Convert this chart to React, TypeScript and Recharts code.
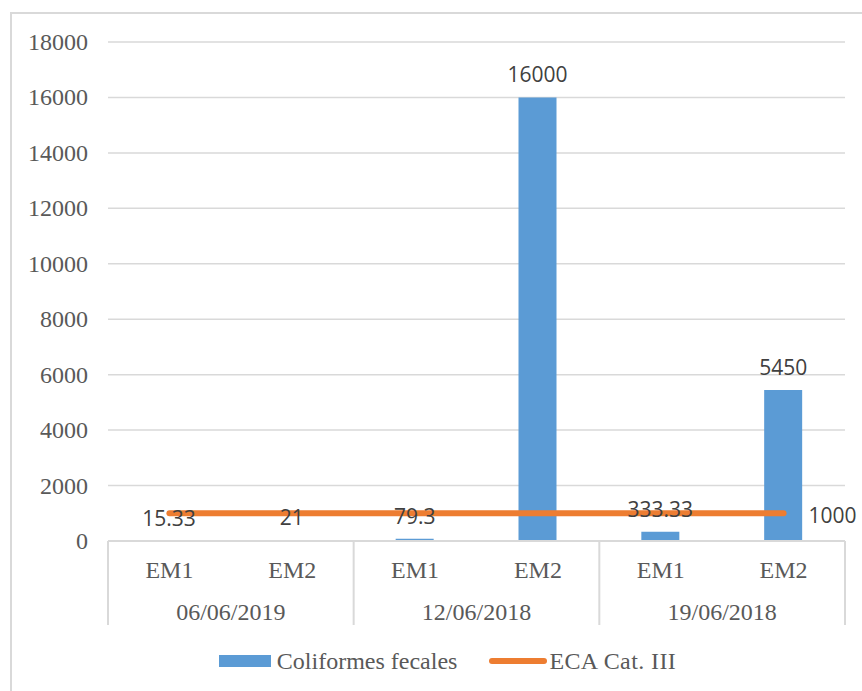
import React from 'react';
import {
  ComposedChart, Bar, Line, XAxis, YAxis, CartesianGrid, Legend, LabelList,
} from 'recharts';

const stations = ['EM1', 'EM2', 'EM1', 'EM2', 'EM1', 'EM2'];
const dates = ['06/06/2019', '06/06/2019', '12/06/2018', '12/06/2018', '19/06/2018', '19/06/2018'];
const coliformes = [15.33, 21, 79.3, 16000, 333.33, 5450];
const ecaLimit = [1000, 1000, 1000, 1000, 1000, 1000];
const yTicks = [0, 2000, 4000, 6000, 8000, 10000, 12000, 14000, 16000, 18000];

const data = stations.map((s, i) => ({
  em: s,
  date: dates[i],
  cf: coliformes[i],
  eca: ecaLimit[i],
}));

const CHART_W = 852;
const CHART_H = 679;
const MARGIN = { top: 30, right: 17, left: 0, bottom: 0 };
const Y_W = 98;
const BAND = (CHART_W - MARGIN.left - MARGIN.right - Y_W) / data.length;

const SERIF = '"Liberation Serif", "Times New Roman", serif';
const SANS = '"Open Sans", "Liberation Sans", sans-serif';
const GRID = '#d9d9d9';
const AXIS_TEXT = '#595959';
const BLUE = '#5b9bd5';
const ORANGE = '#ed7d31';

const CategoryTick = (props: any) => {
  const { x, y, payload } = props;
  const i = payload.index;
  const top = y - 8;
  return (
    <g>
      <text x={x} y={top + 29} textAnchor="middle" dominantBaseline="central"
        fontFamily={SERIF} fontSize={24} fill={AXIS_TEXT}>{payload.value}</text>
      {i % 2 === 0 && (
        <>
          <line x1={x - BAND / 2} x2={x - BAND / 2} y1={top} y2={top + 84} stroke={GRID} strokeWidth={2} />
          <text x={x + BAND / 2} y={top + 71} textAnchor="middle" dominantBaseline="central"
            fontFamily={SERIF} fontSize={24} fill={AXIS_TEXT}>{dates[i]}</text>
        </>
      )}
      {i === data.length - 1 && (
        <line x1={x + BAND / 2} x2={x + BAND / 2} y1={top} y2={top + 84} stroke={GRID} strokeWidth={2} />
      )}
    </g>
  );
};

const ValueTick = (props: any) => {
  const { x, y, payload } = props;
  return (
    <text x={x} y={y} textAnchor="end" dominantBaseline="central"
      fontFamily={SERIF} fontSize={24} fill={AXIS_TEXT}>{payload.value}</text>
  );
};

const EcaLabel = (props: any) => {
  const { x, y, index, value } = props;
  if (index !== data.length - 1) return null;
  return (
    <text x={x + 25} y={y + 2} dominantBaseline="central" textAnchor="start"
      fontFamily={SANS} fontSize={21} fill="#404040">{value}</text>
  );
};

const LegendContent = () => (
  <div style={{ display: 'flex', justifyContent: 'center', alignItems: 'center', paddingLeft: 40,
    fontFamily: SERIF, fontSize: 24, color: AXIS_TEXT, height: 40, paddingBottom: 10 }}>
    <svg width={52} height={14} style={{ marginRight: 6 }}>
      <rect x={0} y={1} width={52} height={12} fill={BLUE} />
    </svg>
    <span style={{ marginRight: 32 }}>Coliformes fecales</span>
    <svg width={58} height={14} style={{ marginRight: 2 }}>
      <line x1={3} y1={7} x2={55} y2={7} stroke={ORANGE} strokeWidth={6} strokeLinecap="round" />
    </svg>
    <span style={{ letterSpacing: 0.4 }}>ECA Cat. III</span>
  </div>
);

export default function App() {
  return (
    <div>
      <div style={{ position: 'absolute', left: 10, top: 12, width: 870, height: 700,
        border: `2px solid ${GRID}`, boxSizing: 'border-box' }} />
      <div style={{ position: 'absolute', left: 10, top: 12 }}>
        <ComposedChart width={CHART_W} height={CHART_H} data={data} margin={MARGIN}>
          <CartesianGrid vertical={false} stroke={GRID} strokeWidth={1.5} />
          <XAxis dataKey="em" height={100} interval={0} tick={<CategoryTick />}
            axisLine={{ stroke: GRID, strokeWidth: 2 }} tickLine={false} />
          <YAxis width={Y_W} domain={[0, 18000]} ticks={yTicks} axisLine={false} tickLine={false}
            tickSize={6} tickMargin={14} tick={<ValueTick />} />
          <Legend verticalAlign="bottom" content={<LegendContent />} wrapperStyle={{ height: 50 }} />
          <Bar dataKey="cf" name="Coliformes fecales" fill={BLUE} barSize={38} isAnimationActive={false}>
            <LabelList dataKey="cf" position="top" offset={15}
              style={{ fontFamily: SANS, fontSize: 21, fill: '#404040' }} />
          </Bar>
          <Line dataKey="eca" name="ECA Cat. III" stroke={ORANGE} strokeWidth={6} strokeLinecap="round"
            dot={false} activeDot={false} isAnimationActive={false}>
            <LabelList dataKey="eca" content={<EcaLabel />} />
          </Line>
        </ComposedChart>
      </div>
    </div>
  );
}
